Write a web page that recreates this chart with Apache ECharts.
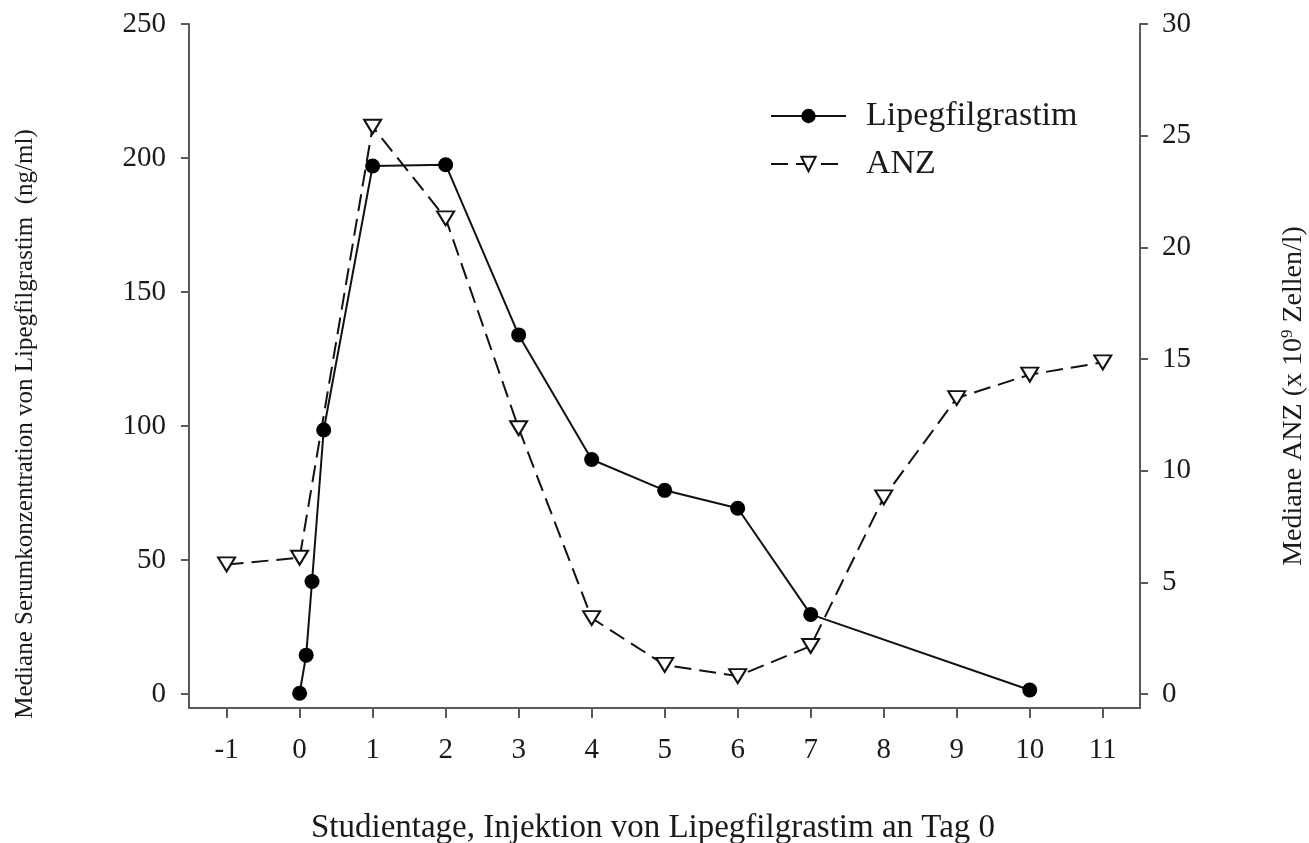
<!DOCTYPE html>
<html>
<head>
<meta charset="utf-8">
<script src="https://cdn.jsdelivr.net/npm/echarts@6/dist/echarts.min.js"></script>
<style>
html,body{margin:0;padding:0;background:#fff;}
#chart{width:1309px;height:843px;}
</style>
</head>
<body>
<div id="chart"></div>
<script>
// Data
const lipegDays = [0, 0.09, 0.17, 0.33, 1, 2, 3, 4, 5, 6, 7, 10];
const lipegValues = [0.3, 14.5, 42, 98.5, 197, 197.5, 134, 87.5, 76, 69.3, 29.7, 1.5];
const anzDays = [-1, 0, 1, 2, 3, 4, 5, 6, 7, 8, 9, 10, 11];
const anzValues = [5.8, 6.1, 25.4, 21.3, 11.9, 3.4, 1.3, 0.8, 2.15, 8.8, 13.25, 14.3, 14.85];
const xTicks = [-1, 0, 1, 2, 3, 4, 5, 6, 7, 8, 9, 10, 11];
const leftTicks = [0, 50, 100, 150, 200, 250];
const rightTicks = [0, 5, 10, 15, 20, 25, 30];

const FONT = '"Liberation Serif", "Times New Roman", serif';
const AXIS_COLOR = '#5a5a5a';
const TEXT_COLOR = '#1a1a1a';

const chart = echarts.init(document.getElementById('chart'));
chart.setOption({
  animation: false,
  backgroundColor: '#ffffff',
  textStyle: { fontFamily: FONT, color: TEXT_COLOR },
  grid: { left: 189, right: 169, top: 24, bottom: 135, containLabel: false },
  legend: {
    left: 765, top: 94,
    orient: 'vertical',
    itemWidth: 75, itemHeight: 18, itemGap: 14,
    textStyle: { fontFamily: FONT, fontSize: 34, color: TEXT_COLOR, padding: [0, 0, 0, 15] },
    data: ['Lipegfilgrastim', 'ANZ']
  },
  xAxis: {
    type: 'value', min: -1.515, max: 11.51,
    axisLine: { show: true, onZero: false, lineStyle: { color: AXIS_COLOR, width: 2 } },
    axisTick: { show: true, length: 10, inside: false, customValues: xTicks, lineStyle: { color: AXIS_COLOR, width: 2 } },
    axisLabel: { customValues: xTicks, margin: 28, fontFamily: FONT, fontSize: 29, color: TEXT_COLOR },
    splitLine: { show: false }
  },
  yAxis: [
    {
      type: 'value', position: 'left', min: -5.22, max: 250,
      axisLine: { show: true, onZero: false, lineStyle: { color: AXIS_COLOR, width: 2 } },
      axisTick: { show: true, length: 8, customValues: leftTicks, lineStyle: { color: AXIS_COLOR, width: 2 } },
      axisLabel: { customValues: leftTicks, margin: 23, fontFamily: FONT, fontSize: 29, color: TEXT_COLOR },
      splitLine: { show: false }
    },
    {
      type: 'value', position: 'right', min: -0.627, max: 30,
      axisLine: { show: true, onZero: false, lineStyle: { color: AXIS_COLOR, width: 2 } },
      axisTick: { show: true, length: 8, customValues: rightTicks, lineStyle: { color: AXIS_COLOR, width: 2 } },
      axisLabel: { customValues: rightTicks, margin: 22, fontFamily: FONT, fontSize: 29, color: TEXT_COLOR },
      splitLine: { show: false }
    }
  ],
  series: [
    {
      name: 'Lipegfilgrastim', type: 'line', yAxisIndex: 0,
      data: lipegDays.map((d, i) => [d, lipegValues[i]]),
      symbol: 'circle', symbolSize: 15,
      itemStyle: { color: '#000', borderWidth: 0 },
      lineStyle: { color: '#111', width: 2 },
      z: 3
    },
    {
      name: 'ANZ', type: 'line', yAxisIndex: 1,
      data: anzDays.map((d, i) => [d, anzValues[i]]),
      symbol: 'triangle', symbolRotate: 180, symbolSize: [17, 14],
      itemStyle: { color: '#fff', borderColor: '#111', borderWidth: 2 },
      lineStyle: { color: '#111', width: 2, type: [17, 8] },
      z: 2
    }
  ],
  graphic: [
    {
      type: 'text', x: 25, y: 424, rotation: Math.PI / 2,
      style: { text: 'Mediane Serumkonzentration von Lipegfilgrastim  (ng/ml)', font: '25px ' + FONT, fill: TEXT_COLOR, align: 'center', verticalAlign: 'middle' }
    },
    {
      type: 'text', x: 1294, y: 396, rotation: Math.PI / 2,
      style: {
        text: 'Mediane ANZ (x 10{sup|9} Zellen/l)',
        font: '28px ' + FONT, fill: TEXT_COLOR, align: 'center', verticalAlign: 'middle',
        rich: { sup: { fontSize: 17, fontFamily: FONT, verticalAlign: 'top', padding: [0, 0, 12, 0], fill: TEXT_COLOR } }
      }
    },
    {
      type: 'text', x: 653, y: 828,
      style: { text: 'Studientage, Injektion von Lipegfilgrastim an Tag 0', font: '33px ' + FONT, fill: TEXT_COLOR, align: 'center', verticalAlign: 'middle' }
    }
  ]
});
</script>
</body>
</html>
